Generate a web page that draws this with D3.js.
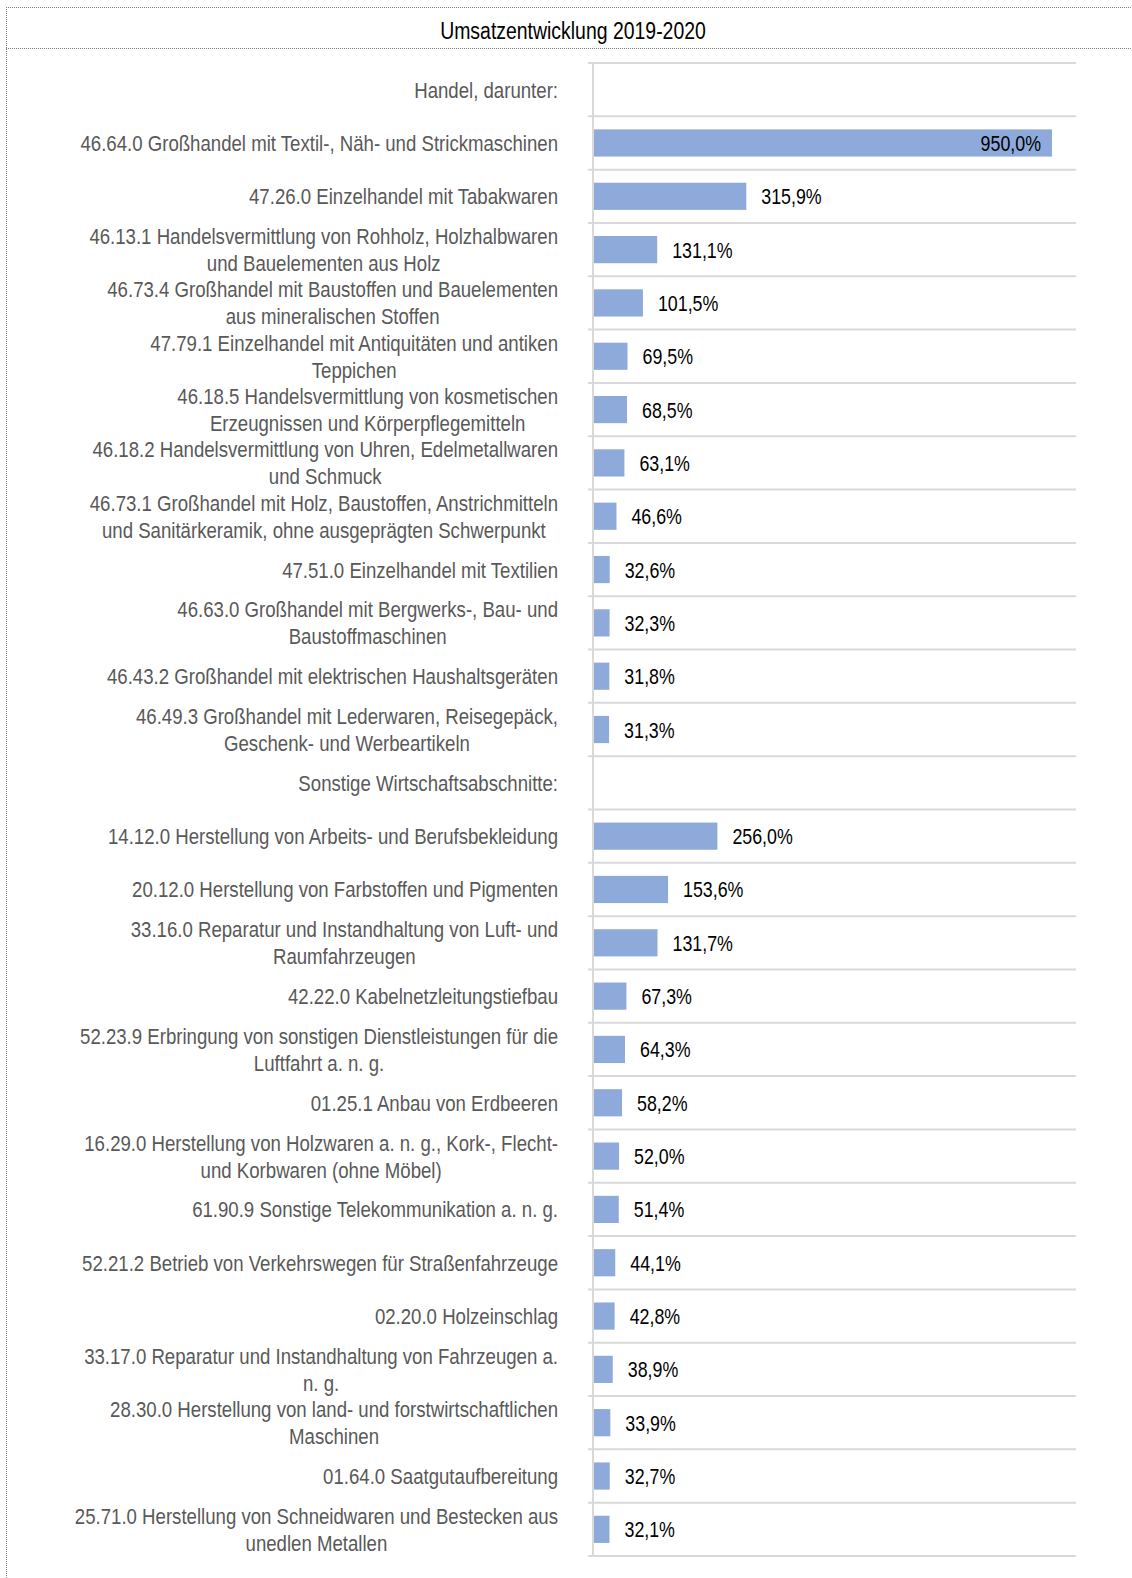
<!DOCTYPE html>
<html>
<head>
<meta charset="utf-8">
<script src="https://cdn.jsdelivr.net/npm/d3@7"></script>
<style>
  html, body { margin: 0; padding: 0; background: #fff; }
  svg { display: block; }
  .lbl { font-family: "Liberation Sans Narrow", "Arial Narrow", "Liberation Sans", Arial, sans-serif; }
</style>
</head>
<body>
<svg id="chart" width="1132" height="1578"></svg>
<script>
// Category labels ("|" marks a line break), and the 2019→2020 turnover change in %
const categories = [
  "Handel, darunter:",
  "46.64.0 Großhandel mit Textil-, Näh- und Strickmaschinen",
  "47.26.0 Einzelhandel mit Tabakwaren",
  "46.13.1 Handelsvermittlung von Rohholz, Holzhalbwaren|und Bauelementen aus Holz",
  "46.73.4 Großhandel mit Baustoffen und Bauelementen|aus mineralischen Stoffen",
  "47.79.1 Einzelhandel mit Antiquitäten und antiken|Teppichen",
  "46.18.5 Handelsvermittlung von kosmetischen|Erzeugnissen und Körperpflegemitteln",
  "46.18.2 Handelsvermittlung von Uhren, Edelmetallwaren|und Schmuck",
  "46.73.1 Großhandel mit Holz, Baustoffen, Anstrichmitteln|und Sanitärkeramik, ohne ausgeprägten Schwerpunkt",
  "47.51.0 Einzelhandel mit Textilien",
  "46.63.0 Großhandel mit Bergwerks-, Bau- und|Baustoffmaschinen",
  "46.43.2 Großhandel mit elektrischen Haushaltsgeräten",
  "46.49.3 Großhandel mit Lederwaren, Reisegepäck,|Geschenk- und Werbeartikeln",
  "Sonstige Wirtschaftsabschnitte:",
  "14.12.0 Herstellung von Arbeits- und Berufsbekleidung",
  "20.12.0 Herstellung von Farbstoffen und Pigmenten",
  "33.16.0 Reparatur und Instandhaltung von Luft- und|Raumfahrzeugen",
  "42.22.0 Kabelnetzleitungstiefbau",
  "52.23.9 Erbringung von sonstigen Dienstleistungen für die|Luftfahrt a. n. g.",
  "01.25.1 Anbau von Erdbeeren",
  "16.29.0 Herstellung von Holzwaren a. n. g., Kork-, Flecht-|und Korbwaren (ohne Möbel)",
  "61.90.9 Sonstige Telekommunikation a. n. g.",
  "52.21.2 Betrieb von Verkehrswegen für Straßenfahrzeuge",
  "02.20.0 Holzeinschlag",
  "33.17.0 Reparatur und Instandhaltung von Fahrzeugen a.|n. g.",
  "28.30.0 Herstellung von land- und forstwirtschaftlichen|Maschinen",
  "01.64.0 Saatgutaufbereitung",
  "25.71.0 Herstellung von Schneidwaren und Bestecken aus|unedlen Metallen"
];

const values = [
  null, 950.0, 315.9, 131.1, 101.5, 69.5, 68.5, 63.1, 46.6, 32.6, 32.3, 31.8, 31.3,
  null, 256.0, 153.6, 131.7, 67.3, 64.3, 58.2, 52.0, 51.4, 44.1, 42.8, 38.9, 33.9, 32.7, 32.1
];

const title = "Umsatzentwicklung 2019-2020";

const rows = categories.map((c, i) => ({ key: String(i), label: c, value: values[i] }));
const fmt = v => d3.format(".1f")(v).replace(".", ",") + "%";

const svg = d3.select("#chart");
const W = 1132;
const narrow = 0.81; // horizontal squeeze for a condensed look

// frame: dotted border around title strip and left edge
const frame = svg.append("g").attr("stroke", "#7f7f7f").attr("stroke-width", 1)
  .attr("stroke-dasharray", "1,1").attr("fill", "none");
frame.append("line").attr("x1", 6).attr("x2", W).attr("y1", 7.5).attr("y2", 7.5);
frame.append("line").attr("x1", 6).attr("x2", W).attr("y1", 48.5).attr("y2", 48.5);
frame.append("line").attr("x1", 6.5).attr("x2", 6.5).attr("y1", 7).attr("y2", 1578);

svg.append("text").attr("class", "lbl")
  .attr("transform", `translate(573,38.5) scale(${narrow},1)`)
  .attr("text-anchor", "middle")
  .attr("font-size", 24).attr("fill", "#000")
  .text(title);

// scales
const plotTop = 63, plotBottom = 1556;
const x0 = 594;
const x = d3.scaleLinear().domain([0, 950]).range([x0, 1052]);
const y = d3.scaleBand().domain(rows.map(r => r.key)).range([plotTop, plotBottom])
  .paddingInner(0.49).paddingOuter(0.245);
const step = y.step();

// horizontal gridlines at row boundaries
const grid = svg.append("g").attr("stroke", "#d9d9d9").attr("stroke-width", 2);
d3.range(rows.length + 1).forEach(i => {
  const yy = plotTop + i * step;
  grid.append("line").attr("x1", 588).attr("x2", 1076).attr("y1", yy).attr("y2", yy);
});

// bars
svg.append("g").selectAll("rect")
  .data(rows.filter(r => r.value != null))
  .join("rect")
  .attr("x", x(0))
  .attr("y", d => y(d.key))
  .attr("width", d => x(d.value) - x(0))
  .attr("height", y.bandwidth())
  .attr("fill", "#8eaadb");

// vertical axis line
svg.append("line").attr("x1", 593).attr("x2", 593).attr("y1", plotTop).attr("y2", plotBottom)
  .attr("stroke", "#d9d9d9").attr("stroke-width", 2);

// category axis with wrapped labels
const labelRight = 558;
const lineH = 27;
const yAxis = d3.axisLeft(y).tickSize(0).tickPadding(0).tickFormat(() => "");
const axisG = svg.append("g").attr("transform", `translate(${labelRight},0)`).call(yAxis);
axisG.select(".domain").remove();

axisG.selectAll(".tick").each(function (k) {
  const r = rows[+k];
  const lines = r.label.split("|");
  const t = d3.select(this).select("text")
    .attr("class", "lbl")
    .attr("font-size", 23)
    .attr("fill", "#595959")
    .attr("dy", null)
    .attr("x", 0)
    .attr("transform", `scale(${narrow},1)`)
    .attr("text-anchor", "middle");
  const n = lines.length;
  const tsp = lines.map((ln, j) => t.append("tspan")
    .attr("y", (j - (n - 1) / 2) * lineH + 8)
    .text(ln));
  // center the lines on the widest one, right-aligned to the label column
  const widths = tsp.map(s => s.node().getComputedTextLength());
  const maxW = d3.max(widths);
  tsp.forEach(s => s.attr("x", -maxW / 2));
});

// value labels
svg.append("g").selectAll("text")
  .data(rows.filter(r => r.value != null))
  .join("text")
  .attr("class", "lbl")
  .attr("font-size", 22)
  .attr("fill", "#000")
  .attr("transform", d => {
    const tx = d.value > 600 ? x(d.value) - 11 : x(d.value) + 15;
    const ty = y(d.key) + y.bandwidth() / 2 + 8;
    return `translate(${tx},${ty}) scale(${narrow},1)`;
  })
  .attr("text-anchor", d => d.value > 600 ? "end" : "start")
  .text(d => fmt(d.value));
</script>
</body>
</html>
